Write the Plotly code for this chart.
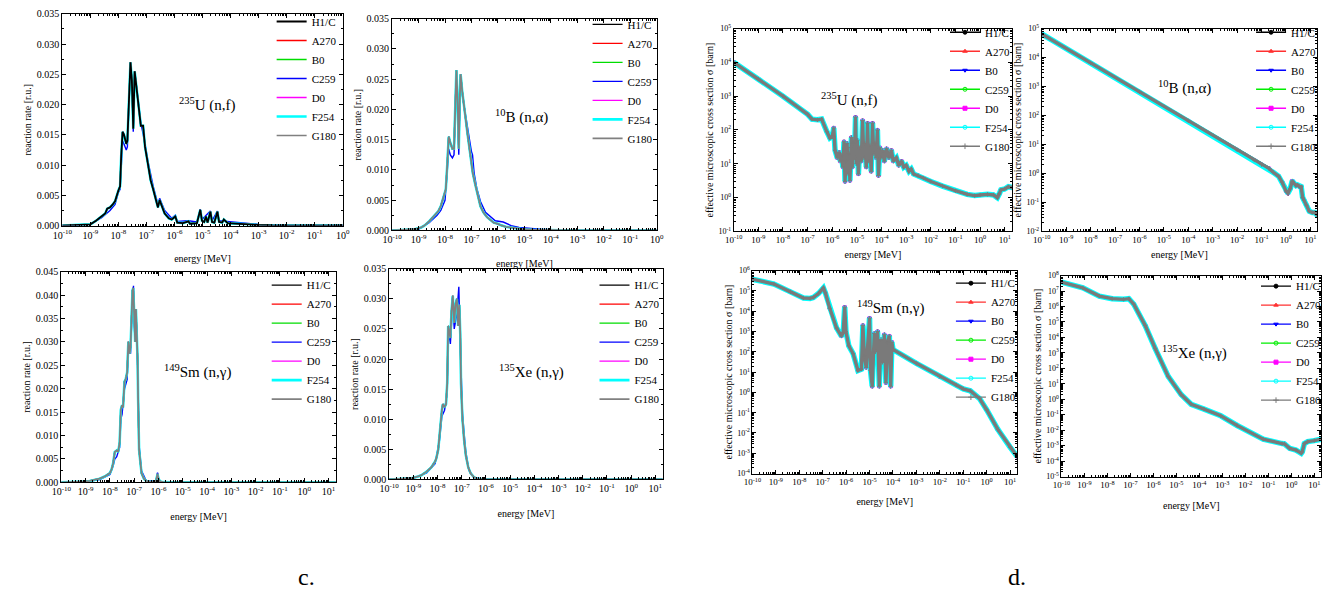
import plotly.graph_objects as go

W, H = 1341, 607
FONT = "Liberation Serif"

SERIES = ["H1/C", "A270", "B0", "C259", "D0", "F254", "G180"]
RR_COLORS = ["#000000", "#ff0000", "#00dd00", "#0000ff", "#ff00ff", "#00ffff", "#808080"]
XS_COLORS = ["#000000", "#ff3030", "#0000ff", "#00ee00", "#ff00ff", "#00ffff", "#7a7a7a"]
XS_SYMBOLS = ["circle", "triangle-up", "triangle-down", "circle-open", "square", "circle-open", "cross-thin"]

# ---------------- reaction rates (log10 energy [MeV], rate [r.u.]) ----------------
LOGE_U_RR = [-10.0, -9.5, -9.2, -9.0, -8.8, -8.6, -8.47, -8.4, -8.3, -8.2, -8.12, -8.0, -7.94, -7.9, -7.85,
             -7.8, -7.72, -7.68, -7.62, -7.57, -7.52, -7.47, -7.42, -7.38, -7.3, -7.24, -7.2, -7.12, -7.05,
             -6.94, -6.85, -6.76, -6.65, -6.59, -6.53, -6.47, -6.35, -6.2, -6.1, -5.97, -5.9, -5.7, -5.5,
             -5.45, -5.2, -5.08, -5.02, -4.94, -4.88, -4.82, -4.72, -4.66, -4.58, -4.47, -4.41, -4.3, -4.24,
             -4.1, -3.8, -3.4, -3.0, -2.5, -2.0, 0.0]
U_RR = [0.0, 0.00005, 0.0001, 0.0002, 0.0008, 0.0015, 0.002, 0.0028, 0.003, 0.0035, 0.004, 0.0058, 0.0065,
        0.0115, 0.0155, 0.015, 0.0135, 0.014, 0.0205, 0.027, 0.024, 0.016, 0.0255, 0.024, 0.021, 0.019,
        0.0165, 0.0165, 0.013, 0.010, 0.0075, 0.006, 0.004, 0.003, 0.0042, 0.0035, 0.002, 0.0012, 0.001,
        0.0015, 0.0005, 0.0004, 0.0007, 0.0003, 0.0004, 0.0026, 0.0008, 0.0006, 0.0015, 0.0005, 0.0023,
        0.0006, 0.0005, 0.0023, 0.0006, 0.0005, 0.001, 0.0004, 0.0003, 0.0002, 0.0001, 0.00003, 0.0, 0.0]
LOGE_U_RR_C259 = [-10.0, -9.0, -8.6, -8.3, -8.12, -8.0, -7.94, -7.9, -7.85, -7.8, -7.72, -7.68, -7.62, -7.57,
                  -7.52, -7.47, -7.42, -7.38, -7.3, -7.2, -7.05, -6.94, -6.76, -6.59, -6.53, -6.35, -6.1,
                  -5.97, -5.9, -5.5, -5.2, -5.08, -5.02, -4.72, -4.66, -4.47, -4.41, -4.0, -3.0, -2.0, 0.0]
U_RR_C259 = [0.0, 0.0002, 0.0013, 0.0025, 0.0035, 0.0055, 0.006, 0.011, 0.014, 0.0135, 0.0125, 0.013, 0.02,
             0.026, 0.0235, 0.0155, 0.025, 0.024, 0.021, 0.017, 0.0135, 0.0105, 0.0065, 0.0035, 0.0045,
             0.0025, 0.0012, 0.0017, 0.0007, 0.0008, 0.0006, 0.0027, 0.001, 0.0024, 0.0008, 0.0024, 0.0008,
             0.0006, 0.0002, 0.0, 0.0]

LOGE_B_RR = [-10.0, -9.5, -9.15, -8.9, -8.78, -8.6, -8.4, -8.25, -8.16, -8.05, -7.97, -7.92, -7.86, -7.8,
             -7.72, -7.66, -7.62, -7.57, -7.52, -7.48, -7.44, -7.41, -7.35, -7.28, -7.22, -7.15, -7.1, -7.04,
             -6.95, -6.85, -6.75, -6.66, -6.55, -6.41, -6.3, -6.16, -6.0, -5.91, -5.7, -5.54, -5.3, -5.04,
             -4.7, -4.42, -4.0, -3.42, -3.0, 0.0]
B_RR = [0.0, 0.00005, 0.0002, 0.0005, 0.0008, 0.0015, 0.0025, 0.0032, 0.004, 0.0055, 0.0068, 0.0105, 0.0155,
        0.0145, 0.0135, 0.0135, 0.019, 0.0265, 0.021, 0.0135, 0.022, 0.0258, 0.023, 0.021, 0.0185, 0.016,
        0.0145, 0.0125, 0.0095, 0.0075, 0.0055, 0.004, 0.003, 0.0022, 0.0018, 0.0013, 0.0011, 0.0009,
        0.0006, 0.0005, 0.0003, 0.0002, 0.00012, 0.0001, 0.00005, 0.00002, 0.0, 0.0]
LOGE_B_RR_C259 = [-10.0, -9.0, -8.6, -8.3, -8.16, -8.0, -7.92, -7.86, -7.8, -7.72, -7.66, -7.62, -7.57, -7.52,
                  -7.48, -7.44, -7.41, -7.35, -7.22, -7.1, -7.0, -6.96, -6.9, -6.8, -6.66, -6.47, -6.3, -6.1,
                  -5.8, -5.5, -5.2, -4.8, -4.4, -3.5, -3.0, 0.0]
B_RR_C259 = [0.0, 0.0002, 0.0013, 0.0025, 0.0033, 0.005, 0.0095, 0.0135, 0.0125, 0.012, 0.0125, 0.018, 0.025,
             0.02, 0.0125, 0.021, 0.025, 0.0225, 0.019, 0.0155, 0.013, 0.0125, 0.0095, 0.007, 0.0048, 0.003,
             0.0023, 0.0016, 0.0014, 0.0008, 0.0005, 0.0003, 0.0002, 0.00005, 0.0, 0.0]

LOGE_SM_RR = [-10.0, -9.5, -9.0, -8.83, -8.6, -8.42, -8.2, -8.0, -7.93, -7.87, -7.8, -7.72, -7.66, -7.6,
              -7.55, -7.5, -7.46, -7.4, -7.35, -7.29, -7.24, -7.19, -7.15, -7.1, -7.07, -7.04, -7.0, -6.96,
              -6.93, -6.9, -6.86, -6.84, -6.8, -6.74, -6.7, -6.6, -6.5, -6.3, -6.1, -6.04, -6.0, -5.94, -5.8,
              -5.5, 1.3]
SM_RR = [0.0, 0.00005, 0.0002, 0.0003, 0.0006, 0.0008, 0.0013, 0.002, 0.0028, 0.004, 0.0065, 0.0068, 0.0065,
         0.0085, 0.0155, 0.0165, 0.016, 0.0215, 0.022, 0.0235, 0.03, 0.0275, 0.029, 0.037, 0.041, 0.0415,
         0.034, 0.03, 0.037, 0.033, 0.026, 0.018, 0.007, 0.004, 0.002, 0.0008, 0.0003, 0.0001, 0.0003,
         0.0018, 0.0008, 0.0002, 0.00005, 0.0, 0.0]
LOGE_SM_RR_C259 = [-10.0, -9.0, -8.42, -8.0, -7.87, -7.8, -7.72, -7.6, -7.55, -7.5, -7.4, -7.29, -7.24, -7.15,
                   -7.1, -7.06, -7.03, -7.0, -6.96, -6.93, -6.88, -6.84, -6.8, -6.7, -6.5, -6.1, -6.04, -6.0,
                   -5.9, 1.3]
SM_RR_C259 = [0.0, 0.0001, 0.0006, 0.0017, 0.0035, 0.005, 0.0055, 0.0075, 0.0135, 0.0145, 0.02, 0.022, 0.029,
              0.0275, 0.035, 0.0415, 0.042, 0.034, 0.03, 0.036, 0.03, 0.02, 0.008, 0.0025, 0.0003, 0.0003,
              0.0021, 0.0008, 0.0, 0.0]

LOGE_XE_RR = [-10.0, -9.5, -9.07, -8.8, -8.67, -8.45, -8.26, -8.1, -8.05, -7.97, -7.92, -7.87, -7.82, -7.78,
              -7.71, -7.65, -7.6, -7.56, -7.52, -7.47, -7.42, -7.37, -7.31, -7.26, -7.2, -7.15, -7.1, -7.06,
              -7.03, -6.97, -6.9, -6.83, -6.73, -6.63, -6.5, -6.35, -6.0, 1.3]
XE_RR = [0.0, 0.0001, 0.0002, 0.0005, 0.0007, 0.0013, 0.002, 0.003, 0.0035, 0.005, 0.0075, 0.0095, 0.0115,
         0.0125, 0.012, 0.0125, 0.016, 0.0255, 0.0245, 0.0235, 0.028, 0.0305, 0.026, 0.029, 0.03, 0.0255,
         0.029, 0.024, 0.016, 0.01, 0.0065, 0.004, 0.002, 0.001, 0.0004, 0.0001, 0.0, 0.0]
LOGE_XE_RR_C259 = [-10.0, -9.0, -8.45, -8.1, -7.92, -7.82, -7.71, -7.6, -7.56, -7.47, -7.37, -7.31, -7.2,
                   -7.12, -7.08, -7.03, -6.97, -6.9, -6.83, -6.7, -6.5, -6.0, 1.3]
XE_RR_C259 = [0.0, 0.0002, 0.0011, 0.0026, 0.0065, 0.0105, 0.0115, 0.0145, 0.025, 0.0225, 0.0295, 0.025,
              0.0275, 0.032, 0.025, 0.017, 0.011, 0.0075, 0.0045, 0.0015, 0.0003, 0.0, 0.0]

# ---------------- effective cross sections (energy [MeV], sigma [barn]) ----------------
E_U_XS = [1e-10, 1e-9, 1e-8, 1e-7, 1.5e-7, 2.5e-7, 3.7e-7, 6e-7, 8e-7, 1e-6, 1.15e-6, 1.3e-6, 1.6e-6, 1.9e-6,
          2.1e-6, 2.4e-6, 2.7e-6, 3.0e-6, 3.3e-6, 3.6e-6, 4.0e-6, 4.4e-6, 4.8e-6, 5.2e-6, 5.6e-6, 6.0e-6,
          6.5e-6, 7.0e-6, 8.0e-6, 8.8e-6, 9.5e-6, 1.05e-5, 1.15e-5, 1.3e-5, 1.5e-5, 1.7e-5, 1.9e-5, 2.1e-5,
          2.4e-5, 2.7e-5, 3.0e-5, 3.4e-5, 3.8e-5, 4.3e-5, 4.8e-5, 5.4e-5, 6.0e-5, 6.8e-5, 7.5e-5, 8.5e-5,
          9.5e-5, 1.1e-4, 1.3e-4, 1.6e-4, 2.0e-4, 2.5e-4, 3.0e-4, 4.0e-4, 5.0e-4, 6.5e-4, 8.0e-4, 1.0e-3,
          1.3e-3, 1.6e-3, 2.0e-3, 3e-3, 5e-3, 1e-2, 3e-2, 1e-1, 3e-1, 6e-1, 1.0, 2.0, 3.5, 5.0, 6.0, 7.0,
          1e1, 1.4e1, 2e1]
U_XS = [1.0e4, 3.2e3, 1.0e3, 2.9e2, 2.1e2, 2.0e2, 2.1e2, 90, 58, 65, 115, 25, 15, 22, 12, 18, 8, 45, 3, 12,
        40, 5, 20, 3.2, 30, 60, 8, 40, 15, 240, 10, 50, 5, 30, 12, 190, 15, 40, 8, 160, 12, 35, 6, 160, 20,
        40, 15, 100, 4.5, 30, 15, 25, 12, 28, 15, 25, 12, 15, 9, 12, 8, 9, 6, 7, 5, 4.5, 3.8, 3.0, 2.2, 1.6,
        1.25, 1.15, 1.2, 1.25, 1.2, 1.0, 1.3, 1.7, 1.8, 2.1, 2.0]

E_B_XS = [1e-10, 1e-8, 1e-6, 1e-4, 1e-2, 5e-2, 1e-1, 2e-1, 3e-1, 5e-1, 7e-1, 1.0, 1.2, 1.5, 1.8, 2.2, 2.6,
          3.0, 3.6, 4.2, 4.8, 5.5, 7.0, 9.0, 1.2e1, 1.5e1, 2e1]
B_XS = [6.5e4, 6.5e3, 6.5e2, 65, 6.5, 2.9, 2.0, 1.5, 1.1, 0.8, 0.5, 0.25, 0.21, 0.3, 0.55, 0.45, 0.38, 0.4,
        0.35, 0.35, 0.15, 0.12, 0.08, 0.05, 0.045, 0.045, 0.035]

E_SM_XS = [1e-10, 8.3e-10, 4.2e-9, 1.5e-8, 2.9e-8, 4e-8, 6.6e-8, 1.07e-7, 1.3e-7, 2e-7, 3.9e-7, 6.3e-7,
           7.5e-7, 8.7e-7, 9.8e-7, 1.3e-6, 2e-6, 3.2e-6, 4.5e-6, 5.2e-6, 6e-6, 7.2e-6, 1e-5, 1.1e-5, 1.3e-5,
           1.6e-5, 1.8e-5, 2.2e-5, 2.6e-5, 3.1e-5, 3.6e-5, 4.3e-5, 5e-5, 5.8e-5, 7e-5, 8e-5, 9e-5, 1e-4,
           1e-3, 1e-2, 5e-2, 1e-1, 2e-1, 5e-1, 1.0, 3.0, 1e1, 2e1]
SM_XS = [3.8e5, 2.2e5, 9e4, 4.5e4, 4.3e4, 4.8e4, 7.5e4, 1.4e5, 8e4, 1.4e4, 1.5e3, 600, 900, 1.6e4, 1e3, 200,
         80, 12, 14, 2e3, 60, 17, 4.6e3, 12, 2, 800, 100, 1e3, 2, 400, 30, 700, 3, 300, 600, 2, 300, 130, 27,
         6, 2.3, 1.5, 1.2, 0.5, 0.14, 0.015, 0.002, 7e-4]

E_XE_XS = [1e-10, 8.5e-10, 4.4e-9, 1.6e-8, 5e-8, 8.5e-8, 1.4e-7, 4.4e-7, 1.2e-6, 4.4e-6, 1.6e-5, 4.4e-5,
           1.6e-4, 8.5e-4, 4.4e-3, 6e-2, 4e-1, 5e-1, 8.5e-1, 1.6, 2.7, 3.0, 3.7, 5.2, 1e1, 2e1]
XE_XS = [3.8e7, 1.6e7, 4.7e6, 3.2e6, 2.9e6, 3.2e6, 1.4e6, 5.8e4, 1.9e3, 30, 2.0, 0.47, 0.23, 0.085, 0.02,
         2.6e-3, 1.35e-3, 1.3e-3, 6.6e-4, 5.1e-4, 3.2e-4, 4e-4, 1.35e-3, 1.8e-3, 2.1e-3, 2.6e-3]

X_EXPONENTS = list(range(-10, 2))

# ---------------- panel layout (pixel boxes) ----------------
PANELS = [
    dict(kind="rr", box=(53, 8, 337, 224), xmax=0.0, yr=[0, 0.035], label="<sup>235</sup>U (n,f)",
         lab=(200, 100), leg=(265, 1), xstand=15,
         base=(LOGE_U_RR, U_RR), alt=(LOGE_U_RR_C259, U_RR_C259), top=0),
    dict(kind="rr", box=(387, 13, 655, 229), xmax=0.0, yr=[0, 0.035], label="<sup>10</sup>B (n,α)",
         lab=(518, 113), leg=(585, 4), xstand=15,
         base=(LOGE_B_RR, B_RR), alt=(LOGE_B_RR_C259, B_RR_C259), top=6),
    dict(kind="rr", box=(52, 271, 330, 486), xmax=1.3, yr=[0, 0.045], label="<sup>149</sup>Sm (n,γ)",
         lab=(190, 373), leg=(260, 270), xstand=16,
         base=(LOGE_SM_RR, SM_RR), alt=(LOGE_SM_RR_C259, SM_RR_C259), top=6),
    dict(kind="rr", box=(384, 268, 661, 483), xmax=1.3, yr=[0, 0.035], label="<sup>135</sup>Xe (n,γ)",
         lab=(528, 373), leg=(592, 270), xstand=16,
         base=(LOGE_XE_RR, XE_RR), alt=(LOGE_XE_RR_C259, XE_RR_C259), top=6),
    dict(kind="xs", box=(733, 23, 1015, 230), xmax=1.3, yexp=(-1, 5), label="<sup>235</sup>U (n,f)",
         lab=(850, 95), leg=(947, 12), xstand=6, data=(E_U_XS, U_XS)),
    dict(kind="xs", box=(1045, 23, 1324, 230), xmax=1.28, yexp=(-2, 5), label="<sup>10</sup>B (n,α)",
         lab=(1190, 83), leg=(1257, 12), xstand=6, data=(E_B_XS, B_XS)),
    dict(kind="xs", box=(752, 270, 1020, 477), xmax=1.3, yexp=(-4, 6), label="<sup>149</sup>Sm (n,γ)",
         lab=(892, 308), leg=(953, 268), xstand=11, data=(E_SM_XS, SM_XS)),
    dict(kind="xs", box=(1065, 275, 1328, 480), xmax=1.3, yexp=(-5, 8), label="<sup>135</sup>Xe (n,γ)",
         lab=(1200, 353), leg=(1262, 271), xstand=12, data=(E_XE_XS, XE_XS)),
]


def pow_label(e):
    return "10<sup>%d</sup>" % e


TITLEFONT = dict(family=FONT, size=10, color="black")

fig = go.Figure()
layout = dict(width=W, height=H, margin=dict(l=0, r=0, t=0, b=0), paper_bgcolor="white",
              plot_bgcolor="white", showlegend=True, annotations=[])

for i, p in enumerate(PANELS, start=1):
    sfx = "" if i == 1 else str(i)
    xa, ya, leg = "x" + sfx, "y" + sfx, "legend" + sfx
    order = list(range(7))
    top = p.get("top", 6)
    order.remove(top)
    order.append(top)
    for k in order:
        name = SERIES[k]
        if p["kind"] == "rr":
            lx, ly = p["alt"] if name == "C259" else p["base"]
            xs = [10 ** v for v in lx]
            width = 1.4
            if name == "F254":
                width = 2.6
            if k == top:
                width = 1.8
            fig.add_trace(go.Scatter(x=xs, y=ly, mode="lines", name=name, xaxis=xa, yaxis=ya,
                                     legend=leg, legendrank=k + 1,
                                     line=dict(color=RR_COLORS[k], width=width)))
        else:
            ex, sy = p["data"]
            width = 3.0
            if name == "F254":
                width = 5.5
            if name == "G180":
                width = 3.4
            # plotted curve (wide band, as in the original where dense markers thicken the line)
            fig.add_trace(go.Scatter(x=ex, y=sy, mode="lines+markers", name=name, xaxis=xa, yaxis=ya,
                                     legend=leg, showlegend=False,
                                     line=dict(color=XS_COLORS[k], width=width),
                                     marker=dict(symbol=XS_SYMBOLS[k], size=3, color=XS_COLORS[k],
                                                 line=dict(width=1, color=XS_COLORS[k]))))
            # key entry with the thin line + marker style of the original legend
            fig.add_trace(go.Scatter(x=[None], y=[None], mode="lines+markers", name=name, xaxis=xa, yaxis=ya,
                                     legend=leg, legendrank=k + 1,
                                     line=dict(color=XS_COLORS[k], width=1.3),
                                     marker=dict(symbol=XS_SYMBOLS[k], size=4, color=XS_COLORS[k],
                                                 line=dict(width=1, color=XS_COLORS[k]))))

    l, t, r, b = p["box"]
    xtickfont = dict(family=FONT, size=10 if p["kind"] == "rr" else 9, color="black")
    ytickfont = dict(family=FONT, size=10 if p["kind"] == "rr" else 8, color="black")
    xticks = [e for e in X_EXPONENTS if e <= p["xmax"] + 1e-9]
    xminor = [m * 10.0 ** e for e in range(-10, 2) for m in range(2, 10)]
    xaxis = dict(type="log", range=[-10, p["xmax"]], domain=[l / W, r / W], anchor=ya,
                 tickmode="array", tickvals=[10.0 ** e for e in xticks], ticktext=[pow_label(e) for e in xticks],
                 showline=True, linecolor="black", linewidth=1, mirror="allticks", ticks="inside", ticklen=4,
                 tickcolor="black", tickfont=xtickfont, showgrid=False, zeroline=False,
                 title=dict(text="energy [MeV]", font=TITLEFONT, standoff=p["xstand"]),
                 minor=dict(tickmode="array", tickvals=xminor, ticks="inside", ticklen=2, tickcolor="black",
                            showgrid=False))
    if p["kind"] == "rr":
        yaxis = dict(range=p["yr"], dtick=0.005, tickformat=".3f", domain=[1 - b / H, 1 - t / H], anchor=xa,
                     showline=True, linecolor="black", linewidth=1, mirror="allticks", ticks="inside",
                     ticklen=4, tickcolor="black", tickfont=ytickfont, showgrid=False, zeroline=False,
                     title=dict(text="reaction rate [r.u.]", font=TITLEFONT, standoff=3),
                     minor=dict(dtick=0.0025, ticks="inside", ticklen=2, tickcolor="black", showgrid=False))
    else:
        y0, y1 = p["yexp"]
        yt = list(range(y0, y1 + 1))
        yminor = [m * 10.0 ** e for e in range(y0, y1) for m in range(2, 10)]
        yaxis = dict(type="log", range=[y0, y1], domain=[1 - b / H, 1 - t / H], anchor=xa,
                     tickmode="array", tickvals=[10.0 ** e for e in yt], ticktext=[pow_label(e) for e in yt],
                     showline=True, linecolor="black", linewidth=1, mirror="allticks", ticks="inside",
                     ticklen=4, tickcolor="black", tickfont=ytickfont, showgrid=False, zeroline=False,
                     title=dict(text="effective microscopic cross section σ [barn]", font=TITLEFONT, standoff=2),
                     minor=dict(tickmode="array", tickvals=yminor, ticks="inside", ticklen=2,
                                tickcolor="black", showgrid=False))
    layout["xaxis" + sfx] = xaxis
    layout["yaxis" + sfx] = yaxis
    lx_, ly_ = p["leg"]
    layout[leg] = dict(x=lx_ / W, y=1 - ly_ / H, xanchor="left", yanchor="top", bgcolor="rgba(0,0,0,0)",
                       borderwidth=0, font=dict(family=FONT, size=11, color="black"), tracegroupgap=0,
                       itemwidth=30)
    cx, cy = p["lab"]
    layout["annotations"].append(dict(text=p["label"], x=cx / W, y=1 - cy / H, xref="paper", yref="paper",
                                      xanchor="center", yanchor="middle", showarrow=False,
                                      font=dict(family=FONT, size=15, color="black")))

for txt, cx in (("c.", 300), ("d.", 1020)):
    layout["annotations"].append(dict(text=txt, x=cx / W, y=1 - 583 / H, xref="paper", yref="paper",
                                      xanchor="center", yanchor="middle", showarrow=False,
                                      font=dict(family=FONT, size=24, color="black")))

fig.update_layout(**layout)
fig.write_html("out.html")
